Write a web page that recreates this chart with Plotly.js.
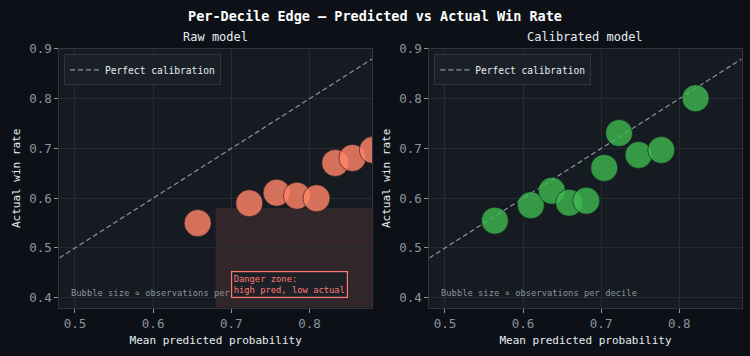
<!DOCTYPE html>
<html>
<head>
<meta charset="utf-8">
<script src="https://cdn.plot.ly/plotly-3.0.1.min.js"></script>
<style>html,body{margin:0;padding:0;background:#0d1117;}#chart{width:750px;height:356px;}</style>
</head>
<body>
<div id="chart"></div>
<script>
// ---- Data ----
const rawPred = [0.657, 0.723, 0.758, 0.784, 0.809, 0.833, 0.855, 0.881];
const rawActual = [0.550, 0.590, 0.611, 0.605, 0.600, 0.671, 0.681, 0.697];
const calPred = [0.564, 0.610, 0.637, 0.659, 0.681, 0.704, 0.723, 0.748, 0.777, 0.821];
const calActual = [0.555, 0.586, 0.615, 0.591, 0.595, 0.661, 0.731, 0.687, 0.697, 0.801];
const diagX = [0.48, 0.88];
const diagY = [0.48, 0.88];
const dangerZone = {x0: 0.68, x1: 0.88, y0: 0.38, y1: 0.58};
const titles = {
  main: 'Per-Decile Edge — Predicted vs Actual Win Rate',
  raw: 'Raw model',
  cal: 'Calibrated model',
  x: 'Mean predicted probability',
  y: 'Actual win rate',
  legend: 'Perfect calibration',
  note: 'Bubble size ∝ observations per decile',
  danger: 'Danger zone:<br>high pred, low actual'
};

// ---- Styling ----
const FONT = 'DejaVu Sans Mono, monospace';
const muted = '#8b949e';
const light = '#e6edf3';
const gridC = '#252b33';
const lineC = '#30363d';
const salmon = 'rgba(255,133,102,0.82)';
const green = 'rgba(63,185,80,0.80)';
const bubbleSize = 27;

const traces = [
  {x: diagX, y: diagY, xaxis: 'x', yaxis: 'y', mode: 'lines', name: titles.legend,
   legend: 'legend', line: {color: muted, width: 1.2, dash: '5px,3px'}, hoverinfo: 'skip'},
  {x: rawPred, y: rawActual, xaxis: 'x', yaxis: 'y', mode: 'markers', showlegend: false,
   marker: {size: bubbleSize, color: salmon, line: {color: 'rgba(13,17,23,0.55)', width: 1}}},
  {x: diagX, y: diagY, xaxis: 'x2', yaxis: 'y2', mode: 'lines', name: titles.legend,
   legend: 'legend2', line: {color: muted, width: 1.2, dash: '5px,3px'}, hoverinfo: 'skip'},
  {x: calPred, y: calActual, xaxis: 'x2', yaxis: 'y2', mode: 'markers', showlegend: false,
   marker: {size: bubbleSize, color: green, line: {color: 'rgba(13,17,23,0.55)', width: 1}}}
];

function xAx(domain, anchor) {
  return {
    domain: domain, anchor: anchor, range: [0.48, 0.88], tick0: 0.5, dtick: 0.1, tickformat: '.1f',
    showgrid: true, gridcolor: gridC, gridwidth: 1, zeroline: false,
    showline: true, linecolor: lineC, linewidth: 1, mirror: true,
    ticks: 'outside', ticklen: 4, tickcolor: muted, tickwidth: 1,
    tickfont: {family: FONT, size: 12.5, color: muted},
    title: {text: titles.x, font: {family: FONT, size: 11, color: light}, standoff: 6},
    automargin: false, fixedrange: true
  };
}
function yAx(anchor) {
  return {
    domain: [0.1357, 0.8624], anchor: anchor, range: [0.38, 0.9], tick0: 0.4, dtick: 0.1, tickformat: '.1f',
    showgrid: true, gridcolor: gridC, gridwidth: 1, zeroline: false,
    showline: true, linecolor: lineC, linewidth: 1, mirror: true,
    ticks: 'outside', ticklen: 4, tickcolor: muted, tickwidth: 1,
    tickfont: {family: FONT, size: 12.5, color: muted},
    title: {text: titles.y, font: {family: FONT, size: 11, color: light}, standoff: 6},
    automargin: false, fixedrange: true
  };
}

const legendStyle = (xpos) => ({
  x: xpos, y: 0.8475, xanchor: 'left', yanchor: 'top', xref: 'paper', yref: 'paper',
  bgcolor: '#1b2028', bordercolor: lineC, borderwidth: 1,
  font: {family: FONT, size: 9.6, color: light}, itemwidth: 30, tracegroupgap: 0
});

const layout = {
  width: 750, height: 356,
  margin: {l: 0, r: 0, t: 0, b: 0},
  paper_bgcolor: '#0d1117', plot_bgcolor: '#161b22',
  font: {family: FONT, color: light},
  title: {text: titles.main, x: 0.5, xanchor: 'center', y: 1 - 16/356, yanchor: 'middle',
          font: {family: FONT, size: 13.5, color: '#ffffff', weight: 'bold'}},
  xaxis: xAx([0.0791, 0.496], 'y'),
  yaxis: yAx('x'),
  xaxis2: xAx([0.5724, 0.9889], 'y2'),
  yaxis2: yAx('x2'),
  legend: legendStyle(0.0853),
  legend2: legendStyle(0.579),
  showlegend: true,
  shapes: [
    {type: 'rect', xref: 'x', yref: 'y', x0: dangerZone.x0, x1: dangerZone.x1, y0: dangerZone.y0, y1: dangerZone.y1,
     fillcolor: 'rgba(255,123,114,0.12)', line: {width: 0}, layer: 'below'}
  ],
  annotations: [
    {text: titles.raw, xref: 'x domain', yref: 'paper', x: 0.5, y: 1 - 37/356, xanchor: 'center', yanchor: 'middle',
     showarrow: false, font: {family: FONT, size: 12, color: light}},
    {text: titles.cal, xref: 'x2 domain', yref: 'paper', x: 0.5, y: 1 - 37/356, xanchor: 'center', yanchor: 'middle',
     showarrow: false, font: {family: FONT, size: 12, color: light}},
    {text: titles.note, xref: 'x domain', yref: 'y domain', x: 0.03, y: 0.03, xanchor: 'left', yanchor: 'bottom',
     showarrow: false, font: {family: FONT, size: 8.8, color: muted}},
    {text: titles.note, xref: 'x2 domain', yref: 'y2 domain', x: 0.03, y: 0.03, xanchor: 'left', yanchor: 'bottom',
     showarrow: false, font: {family: FONT, size: 8.8, color: muted}},
    {text: titles.danger, xref: 'x', yref: 'y', x: 0.70, y: 0.40, xanchor: 'left', yanchor: 'bottom', align: 'left',
     showarrow: false, font: {family: FONT, size: 8.8, color: '#ff7b72'},
     bgcolor: '#1d2027', bordercolor: '#ff7b72', borderwidth: 1.2, borderpad: 1.5}
  ]
};

Plotly.newPlot('chart', traces, layout, {displayModeBar: false, staticPlot: true});
</script>
</body>
</html>
